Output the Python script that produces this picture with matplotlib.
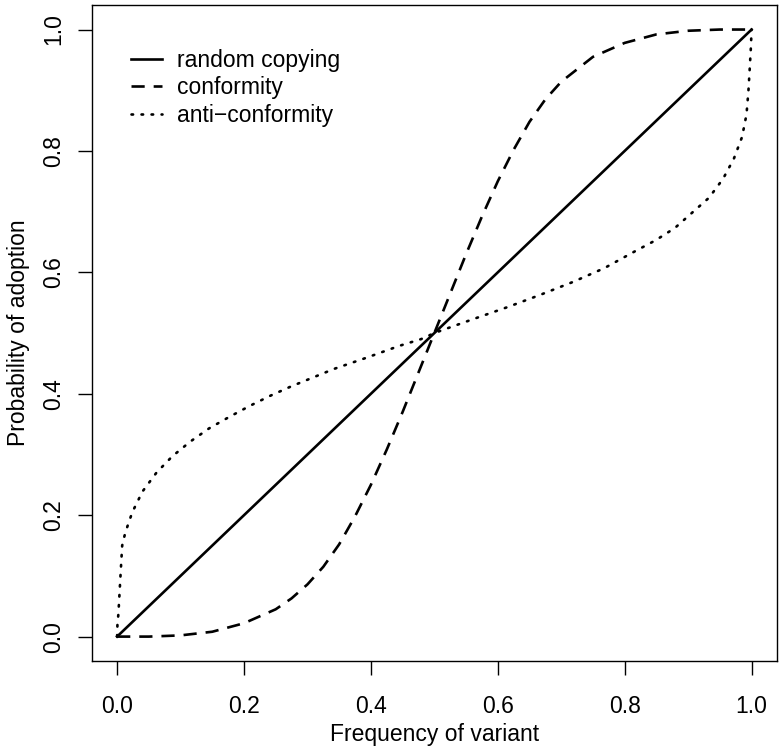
import numpy as np
import matplotlib.pyplot as plt

# =========================
# Data
# =========================

random_x = [0.0, 1.0]
random_y = [0.0, 1.0]

conf_x = [0.0, 0.05, 0.10, 0.15, 0.20, 0.25, 0.275, 0.30, 0.325, 0.35,
          0.375, 0.40, 0.425, 0.45, 0.475, 0.50, 0.525, 0.55, 0.575, 0.60,
          0.625, 0.65, 0.675, 0.70, 0.75, 0.80, 0.85, 0.90, 0.95, 1.0]
conf_y = [0.0, 0.0, 0.002, 0.008, 0.022, 0.045, 0.063, 0.086, 0.115, 0.152,
          0.198, 0.250, 0.308, 0.370, 0.435, 0.500, 0.565, 0.630, 0.692, 0.750,
          0.802, 0.848, 0.885, 0.914, 0.955, 0.978, 0.992, 0.998, 1.0, 1.0]

anti_x = [0.0, 0.0005, 0.002, 0.004, 0.006, 0.008, 0.0126, 0.018, 0.024, 0.040,
          0.062, 0.087, 0.115, 0.145, 0.177, 0.209, 0.242, 0.274, 0.342, 0.392,
          0.445, 0.479, 0.500, 0.513, 0.564, 0.616, 0.667, 0.718, 0.768, 0.815,
          0.849, 0.879, 0.906, 0.933, 0.955, 0.972, 0.985, 0.992, 0.995, 0.997,
          0.999, 1.0]
anti_y = [0.0, 0.019, 0.037, 0.075, 0.113, 0.150, 0.170, 0.187, 0.205, 0.239,
          0.270, 0.297, 0.321, 0.343, 0.362, 0.380, 0.397, 0.412, 0.441, 0.459,
          0.479, 0.490, 0.500, 0.505, 0.524, 0.543, 0.563, 0.584, 0.607, 0.634,
          0.653, 0.673, 0.698, 0.723, 0.754, 0.787, 0.823, 0.860, 0.898, 0.934,
          0.972, 1.0]

ticks = [0.0, 0.2, 0.4, 0.6, 0.8, 1.0]
tick_labels = ["0.0", "0.2", "0.4", "0.6", "0.8", "1.0"]

# =========================
# Plot
# =========================

plt.rcParams["font.family"] = ["Liberation Sans", "DejaVu Sans"]
fs = 16.5

fig = plt.figure(figsize=(7.84, 7.51), dpi=100)
ax = fig.add_axes([0.117, 0.12, 0.874, 0.873])

ax.plot(random_x, random_y, color="black", lw=1.9, linestyle="-", label="random copying")
ax.plot(conf_x, conf_y, color="black", lw=1.9, linestyle=(0, (5, 3.4)), label="conformity")
ax.plot(anti_x, anti_y, color="black", lw=1.9, linestyle=(0, (0.6, 3.2)),
        dash_capstyle="round", label="anti\u2212conformity")

ax.set_xlim(-0.04, 1.04)
ax.set_ylim(-0.04, 1.04)
ax.set_xticks(ticks)
ax.set_xticklabels(tick_labels)
ax.set_yticks(ticks)
ax.set_yticklabels(tick_labels, rotation=90, va="center")
ax.tick_params(direction="out", length=10, width=1, labelsize=fs)
ax.tick_params(axis="x", pad=14.5)
ax.tick_params(axis="y", pad=8.8)

for s in ax.spines.values():
    s.set_linewidth(1)

ax.set_xlabel("Frequency of variant", fontsize=fs, labelpad=4)
ax.set_ylabel("Probability of adoption", fontsize=fs, labelpad=9)

ax.legend(loc="upper left", bbox_to_anchor=(0.058, 0.934), frameon=False,
          borderaxespad=0, borderpad=0,
          handlelength=1.35, handletextpad=0.65, labelspacing=0.2, fontsize=fs)

fig.savefig("out.png", dpi=100)
